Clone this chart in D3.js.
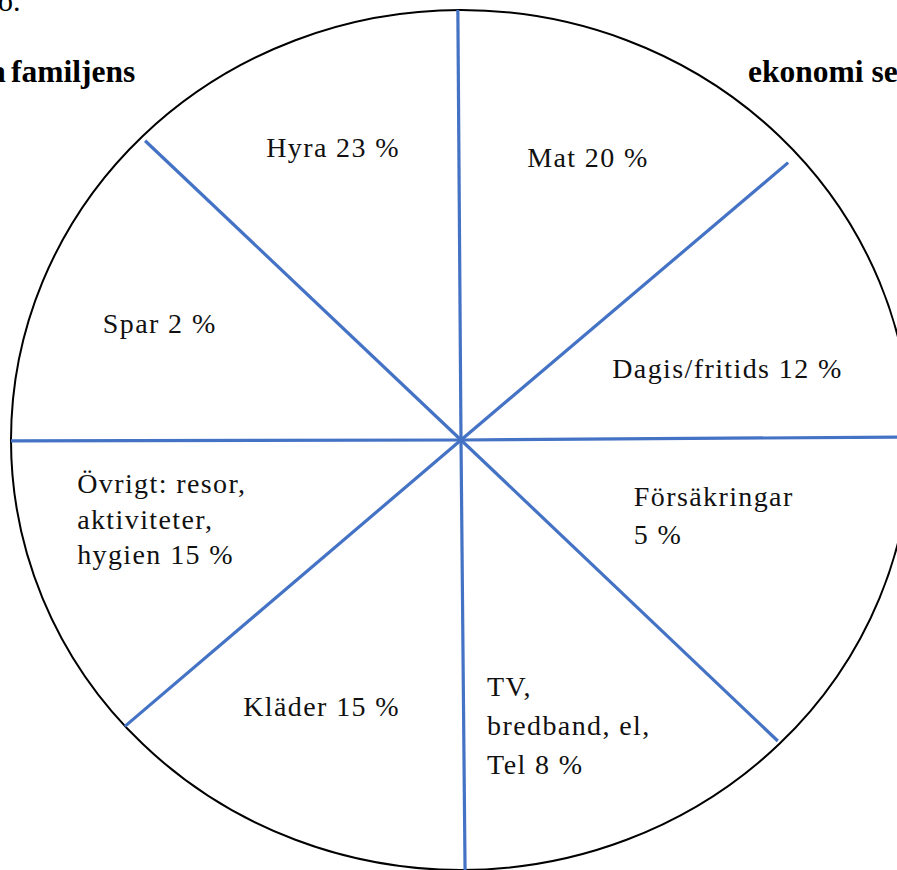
<!DOCTYPE html>
<html>
<head>
<meta charset="utf-8">
<script src="https://cdn.jsdelivr.net/npm/d3@7"></script>
<style>
  html, body { margin: 0; padding: 0; background: #fff; overflow: hidden; }
  svg { display: block; }
</style>
</head>
<body>
<svg></svg>
<script>
'use strict'

// Budget shares (equal sectors in the drawing, values only in labels)
const categories = ['Hyra', 'Mat', 'Dagis/fritids', 'Försäkringar', 'TV, bredband, el, Tel', 'Kläder', 'Övrigt: resor, aktiviteter, hygien', 'Spar']
const values = [23, 20, 12, 5, 8, 15, 15, 2]
const headingLeft = ['o.', 'a familjens']
const headingRight = ['ekonomi se']

// layout: spokes and label anchors in unit coordinates of the circle
const spokes = [
  [-0.007, -1], [0.727, -0.645], [1.0, -0.007], [0.704, 0.70],
  [0.009, 1.0], [-0.747, 0.666], [-1.0, 0.002], [-0.702, -0.696]
]
const labelLayout = [
  { x: -0.433, y: -0.657, lines: 1, lh: 0 },
  { x: 0.147, y: -0.636, lines: 1, lh: 0 },
  { x: 0.336, y: -0.145, lines: 1, lh: 0 },
  { x: 0.384, y: 0.154, lines: 2, lh: 38 },
  { x: 0.058, y: 0.596, lines: 3, lh: 39 },
  { x: -0.484, y: 0.643, lines: 1, lh: 0 },
  { x: -0.853, y: 0.124, lines: 3, lh: 35.5 },
  { x: -0.796, y: -0.250, lines: 1, lh: 0 }
]

const width = 897
const height = 870
const cx = 461
const cy = 440
const rx = 450
const ry = 430

const svg = d3.select('svg')
  .attr('width', width)
  .attr('height', height)

const x = d3.scaleLinear().domain([-1, 1]).range([cx - rx, cx + rx])
const y = d3.scaleLinear().domain([-1, 1]).range([cy - ry, cy + ry])

// outer circle
svg.append('ellipse')
  .attr('cx', x(0))
  .attr('cy', y(0))
  .attr('rx', x(1) - x(0))
  .attr('ry', y(1) - y(0))
  .attr('fill', 'none')
  .attr('stroke', '#000')
  .attr('stroke-width', 2)

// spokes
svg.selectAll('line.spoke')
  .data(spokes)
  .enter().append('line')
  .attr('class', 'spoke')
  .attr('x1', x(0))
  .attr('y1', y(0))
  .attr('x2', d => x(d[0]))
  .attr('y2', d => y(d[1]))
  .attr('stroke', '#4472c4')
  .attr('stroke-width', 3.2)

// split label text into the lines used in the drawing
function labelLines (name, value, n) {
  const words = `${name} ${value} %`.split(' ')
  if (n === 1) return [words.join(' ')]
  if (n === 2) return [words.slice(0, words.length - 2).join(' '), words.slice(-2).join(' ')]
  if (name.startsWith('TV')) return [words[0], words.slice(1, 3).join(' '), words.slice(3).join(' ')]
  return [words.slice(0, 2).join(' '), words[2], words.slice(3).join(' ')]
}

const labels = svg.selectAll('text.label')
  .data(categories.map((c, i) => ({ name: c, value: values[i], pos: labelLayout[i] })))
  .enter().append('text')
  .attr('class', 'label')
  .attr('font-family', '"Liberation Serif", "Times New Roman", serif')
  .attr('font-size', 28)
  .attr('letter-spacing', 1.4)
  .attr('fill', '#111')

labels.selectAll('tspan')
  .data(d => labelLines(d.name, d.value, d.pos.lines).map((t, i) => ({ t, i, pos: d.pos })))
  .enter().append('tspan')
  .attr('x', d => x(d.pos.x))
  .attr('y', d => y(d.pos.y) + d.i * d.pos.lh)
  .text(d => d.t)

// heading fragments around the chart
svg.append('text')
  .attr('x', -2)
  .attr('y', 11)
  .attr('font-family', '"Liberation Serif", serif')
  .attr('font-size', 30)
  .text(headingLeft[0])

svg.append('text')
  .attr('x', 11)
  .attr('y', 82)
  .attr('font-family', '"Liberation Serif", serif')
  .attr('font-weight', 'bold')
  .attr('font-size', 31.5)
  .text(headingLeft[1].slice(2))

svg.append('text')
  .attr('x', -10)
  .attr('y', 82)
  .attr('font-family', '"Liberation Serif", serif')
  .attr('font-weight', 'bold')
  .attr('font-size', 31.5)
  .text(headingLeft[1].slice(0, 1))

svg.append('text')
  .attr('x', 748)
  .attr('y', 82)
  .attr('font-family', '"Liberation Serif", serif')
  .attr('font-weight', 'bold')
  .attr('font-size', 31.5)
  .text(headingRight[0])
</script>
</body>
</html>
